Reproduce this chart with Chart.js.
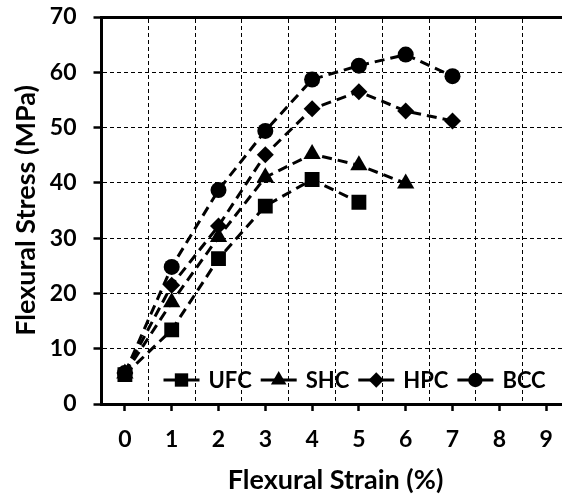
<!DOCTYPE html>
<html>
<head>
<meta charset="utf-8">
<script src="https://cdn.jsdelivr.net/npm/chart.js@4.4.1/dist/chart.umd.min.js"></script>
<style>
  html, body { margin: 0; padding: 0; background: #fff; overflow: hidden; }
  #frame { width: 562px; height: 496px; overflow: hidden; }
  /* the original picture is cropped on the right, so the canvas is a bit wider than the frame */
  #myChart { display: block; }
</style>
</head>
<body>
<div id="frame"><canvas id="myChart" width="580" height="496"></canvas></div>
<script>
// x = flexural strain (%), y = flexural stress (MPa)
let strainLabels = [0, 1, 2, 3, 4, 5, 6, 7, 8, 9];
let stressTicks = [0, 10, 20, 30, 40, 50, 60, 70];

let ufc = [5.3, 13.4, 26.3, 35.8, 40.6, 36.5];
let shc = [5.5, 18.4, 30.2, 41.0, 45.2, 43.2, 39.9];
let hpc = [5.6, 21.5, 32.2, 45.1, 53.4, 56.5, 53.0, 51.2];
let bcc = [5.6, 24.8, 38.7, 49.4, 58.7, 61.2, 63.2, 59.3];

function pts(values) {
    return values.map((v, i) => ({ x: strainLabels[i], y: v }));
}

function series(label, values, style, radius) {
    return {
        label: label,
        data: pts(values),
        borderColor: '#000',
        backgroundColor: '#000',
        borderWidth: 3,
        borderDash: [10, 6],
        pointStyle: style,
        pointRadius: radius,
        pointHoverRadius: radius,
        pointBorderWidth: 0,
        pointBackgroundColor: '#000',
        tension: 0
    };
}

// legend drawn inside the plot, line through marker like the original
const innerLegend = {
    id: 'innerLegend',
    afterDatasetsDraw(chart, args, opts) {
        const { ctx, chartArea } = chart;
        ctx.save();
        ctx.font = 'bold 22px Lato';
        ctx.textBaseline = 'middle';
        ctx.fillStyle = '#000';
        ctx.strokeStyle = '#000';
        let x = chartArea.left + opts.left;
        const y = chartArea.bottom - opts.bottom;
        chart.data.datasets.forEach(ds => {
            ctx.lineWidth = 3;
            ctx.setLineDash([]);
            ctx.beginPath();
            ctx.moveTo(x, y);
            ctx.lineTo(x + 36, y);
            ctx.stroke();
            Chart.helpers.drawPoint(ctx, { pointStyle: ds.pointStyle, radius: ds.pointRadius * 0.9, borderWidth: 0 }, x + 18, y);
            ctx.fillText(ds.label, x + 45, y + 1);
            x += 45 + ctx.measureText(ds.label).width + 9;
        });
        ctx.restore();
    }
};

Chart.defaults.font.family = 'Lato';
Chart.defaults.font.weight = 'bold';
Chart.defaults.font.size = 23;
Chart.defaults.color = '#000';

const noSidePad = s => { s.paddingLeft = 0; s.paddingRight = 0; };

let ctx = document.getElementById('myChart').getContext('2d');
let myChart = new Chart(ctx, {
    type: 'line',
    data: {
        datasets: [
            series('UFC', ufc, 'rect', 10.5),
            series('SHC', shc, 'triangle', 10),
            series('HPC', hpc, 'rectRot', 8.5),
            series('BCC', bcc, 'circle', 8)
        ]
    },
    plugins: [innerLegend],
    options: {
        responsive: false,
        animation: false,
        layout: { padding: { top: 17, left: 4, right: 0, bottom: 0 } },
        plugins: {
            legend: { display: false },
            tooltip: { enabled: false },
            innerLegend: { left: 62, bottom: 24 }
        },
        scales: {
            x: {
                type: 'linear',
                position: 'bottom',
                min: -0.5,
                max: 9.5,
                afterBuildTicks: s => { s.ticks = strainLabels.map(v => ({ value: v })); },
                afterFit: s => { s.height = 92; noSidePad(s); },
                ticks: { padding: 15 },
                grid: { drawOnChartArea: false, drawTicks: true, tickLength: 7, tickWidth: 2.5, tickColor: '#000', color: '#000' },
                border: { display: true, color: '#000', width: 3 },
                title: { display: true, text: 'Flexural Strain (%)', font: { size: 27 }, padding: { top: 8, bottom: 0 } }
            },
            // second axis only for the dashed grid between categories and the top line
            xGrid: {
                type: 'linear',
                position: 'top',
                min: -0.5,
                max: 9.5,
                afterBuildTicks: s => { s.ticks = strainLabels.map(v => ({ value: v - 0.5 })); },
                afterFit: s => { s.height = 0; noSidePad(s); },
                ticks: { display: false },
                grid: { drawTicks: false, tickLength: 0, color: '#000', lineWidth: 1 },
                border: { display: true, color: '#000', width: 3, dash: [4, 3] }
            },
            y: {
                min: 0,
                max: 70,
                afterBuildTicks: s => { s.ticks = stressTicks.map(v => ({ value: v })); },
                afterFit: s => { s.width = 97.5; s.paddingTop = 0; s.paddingBottom = 0; },
                ticks: { padding: 17 },
                grid: { color: '#000', lineWidth: 1, tickLength: 8, tickWidth: 2.5, tickColor: '#000', tickBorderDash: [] },
                border: { display: true, color: '#000', width: 3, dash: [4, 3] },
                title: { display: true, text: 'Flexural Stress (MPa)', font: { size: 27 }, padding: { top: 6, bottom: 7 } }
            }
        }
    }
});
</script>
</body>
</html>
